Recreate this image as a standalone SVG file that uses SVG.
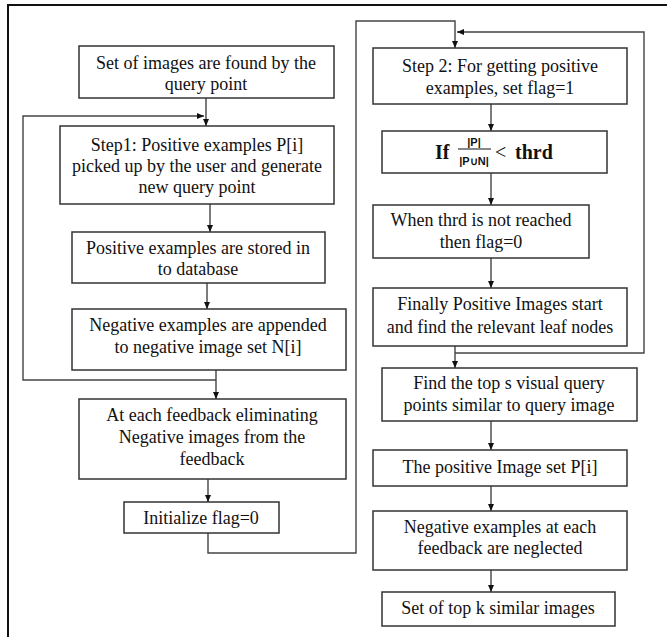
<svg xmlns="http://www.w3.org/2000/svg" width="667" height="637" viewBox="0 0 667 637">
<defs>
<marker id="ah" markerWidth="8" markerHeight="8" refX="7" refY="4" orient="auto" markerUnits="userSpaceOnUse">
<path d="M0,1 L7,4 L0,7 Z" fill="#111"/>
</marker>
<style>
.b{fill:#fff;stroke:#333;stroke-width:1.5}
.t{font-family:"Liberation Serif","Times New Roman",serif;font-size:18px;fill:#111;text-anchor:middle}
.m{font-family:"Liberation Serif","Times New Roman",serif;font-size:20px;font-weight:bold;fill:#111}
.f{font-family:"Liberation Sans",Arial,sans-serif;font-size:11px;font-weight:bold;fill:#111;text-anchor:middle}
.ca{fill:none;stroke:#444;stroke-width:1.4;marker-end:url(#ah)}
</style>
</defs>
<rect width="667" height="637" fill="#fff"/>
<path d="M8,637 V5 H667" fill="none" stroke="#111" stroke-width="2"/>
<g id="connectors">
<path class="ca" d="M206,98 V126"/>
<path class="ca" d="M216,380 H23 V116 H204"/>
<path class="ca" d="M210,204 V232"/>
<path class="ca" d="M207,283 V309"/>
<path class="ca" d="M216,370 V399"/>
<path class="ca" d="M208,479 V502"/>
<path class="ca" d="M208,533 V553 H356 V21 H455 V48"/>
<path class="ca" d="M491,104 V131"/>
<path class="ca" d="M491,173 V205"/>
<path class="ca" d="M491,258 V288"/>
<path class="ca" d="M455,346 V368"/>
<path class="ca" d="M455,353 H644 V32 H457"/>
<path class="ca" d="M491,421 V450"/>
<path class="ca" d="M491,486 V511"/>
<path class="ca" d="M491,570 V592"/>
</g>
<g id="n1"><rect class="b" x="79" y="46" width="255" height="52"/><text class="t" x="206" y="69">Set of images are found by the</text><text class="t" x="206" y="90">query point</text></g>
<g id="n2"><rect class="b" x="60" y="126" width="274" height="78"/><text class="t" x="197" y="151">Step1: Positive examples P[i]</text><text class="t" x="197" y="172">picked up by the user and generate</text><text class="t" x="197" y="193">new query point</text></g>
<g id="n3"><rect class="b" x="72" y="232" width="253" height="51"/><text class="t" x="198" y="254">Positive examples are stored in</text><text class="t" x="198" y="275">to database</text></g>
<g id="n4"><rect class="b" x="72" y="309" width="274" height="61"/><text class="t" x="208" y="331">Negative examples are appended</text><text class="t" x="208" y="353">to negative image set N[i]</text></g>
<g id="n5"><rect class="b" x="79" y="399" width="267" height="80"/><text class="t" x="212" y="421">At each feedback eliminating</text><text class="t" x="212" y="443">Negative images from the</text><text class="t" x="212" y="465">feedback</text></g>
<g id="n6"><rect class="b" x="124" y="502" width="155" height="31"/><text class="t" x="201" y="524">Initialize flag=0</text></g>
<g id="n7"><rect class="b" x="373" y="48" width="254" height="56"/><text class="t" x="500" y="72">Step 2: For getting positive</text><text class="t" x="500" y="94">examples, set flag=1</text></g>
<g id="n8"><rect class="b" x="382" y="131" width="225" height="42"/>
<text class="m" x="435" y="159">If</text>
<text class="f" x="474" y="146">|P|</text>
<line x1="458" y1="149" x2="491" y2="149" stroke="#111" stroke-width="1"/>
<text class="f" x="474" y="165">|P∪N|</text>
<text class="m" x="495" y="159" style="font-weight:normal">&lt;</text>
<text class="m" x="515" y="159">thrd</text>
</g>
<g id="n9"><rect class="b" x="373" y="205" width="216" height="53"/><text class="t" x="481" y="226">When thrd is not reached</text><text class="t" x="481" y="248">then flag=0</text></g>
<g id="n10"><rect class="b" x="373" y="288" width="254" height="58"/><text class="t" x="500" y="310">Finally Positive Images start</text><text class="t" x="500" y="333">and find the relevant leaf nodes</text></g>
<g id="n11"><rect class="b" x="382" y="368" width="255" height="53"/><text class="t" x="509" y="389">Find the top s visual query</text><text class="t" x="509" y="411">points similar to query image</text></g>
<g id="n12"><rect class="b" x="373" y="450" width="254" height="36"/><text class="t" x="500" y="473">The positive Image set P[i]</text></g>
<g id="n13"><rect class="b" x="373" y="511" width="254" height="59"/><text class="t" x="500" y="533">Negative examples at each</text><text class="t" x="500" y="554">feedback are neglected</text></g>
<g id="n14"><rect class="b" x="382" y="592" width="233" height="34"/><text class="t" x="498" y="614">Set of top k similar images</text></g>
</svg>
